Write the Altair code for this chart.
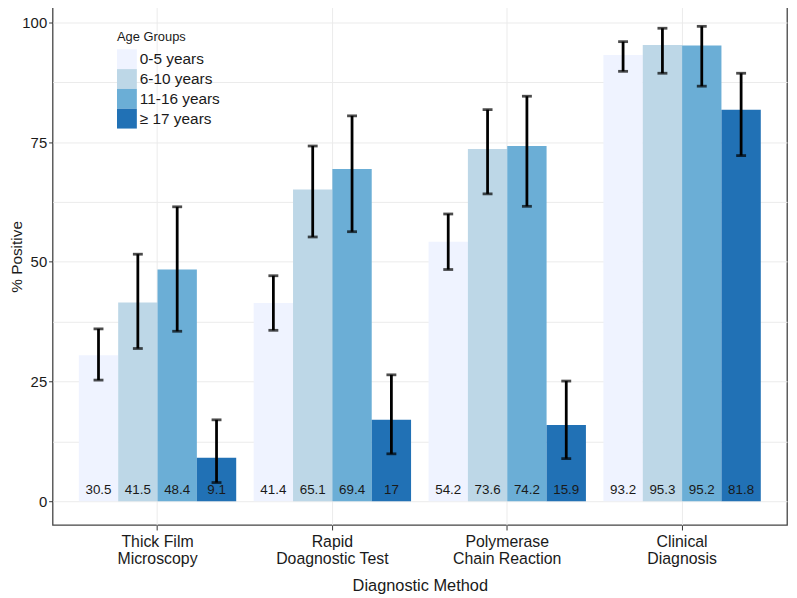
import altair as alt
import pandas as pd

methods = ["Thick Film\nMicroscopy", "Rapid\nDoagnostic Test", "Polymerase\nChain Reaction", "Clinical\nDiagnosis"]
ages = ["0-5 years", "6-10 years", "11-16 years", "\u2265 17 years"]
colors = ["#eff3ff", "#bdd7e7", "#6baed6", "#2171b5"]

# % positive per method (rows) and age group (columns)
values = [
    [30.5, 41.5, 48.4, 9.1],
    [41.4, 65.1, 69.4, 17],
    [54.2, 73.6, 74.2, 15.9],
    [93.2, 95.3, 95.2, 81.8],
]
lower = [
    [25.3, 31.9, 35.5, 3.9],
    [35.7, 55.2, 56.3, 9.9],
    [48.4, 64.2, 61.6, 8.9],
    [89.8, 89.4, 86.7, 72.2],
]
upper = [
    [36.0, 51.6, 61.5, 17.0],
    [47.1, 74.2, 80.5, 26.4],
    [60.0, 81.8, 84.6, 25.1],
    [96.0, 98.8, 99.2, 89.4],
]
y_ticks = [0, 12.5, 25, 37.5, 50, 62.5, 75, 87.5, 100]

rows = []
for i, m in enumerate(methods):
    for j, a in enumerate(ages):
        rows.append({"method": m, "age": a, "value": values[i][j],
                     "lo": lower[i][j], "hi": upper[i][j],
                     "label": f"{values[i][j]:g}"})
df = pd.DataFrame(rows)

FONT = "Liberation Sans"

x_enc = alt.X("method:N", sort=methods, title="Diagnostic Method",
              scale=alt.Scale(paddingInner=0.1, paddingOuter=0.15),
              axis=alt.Axis(labelExpr="split(datum.label, '\\n')", labelAngle=0,
                            bandPosition=0.5, grid=True, gridColor="#ebebeb",
                            domain=False, tickColor="#333333", tickSize=5,
                            labelPadding=4, labelFontSize=16, labelColor="#1a1a1a",
                            labelFont=FONT, labelLineHeight=17,
                            titleFont=FONT, titleFontSize=16.5, titleFontWeight="normal",
                            titleColor="#1a1a1a", titlePadding=11))
xo_enc = alt.XOffset("age:N", sort=ages, scale=alt.Scale(paddingInner=0, paddingOuter=0))
y_scale = alt.Scale(domain=[-4.97, 104.14], nice=False, zero=False)

base = alt.Chart(df)

bars = base.mark_bar(strokeWidth=0).encode(
    x=x_enc,
    xOffset=xo_enc,
    y=alt.Y("value:Q", scale=y_scale, title="% Positive",
            axis=alt.Axis(values=y_ticks, grid=True, gridColor="#ebebeb",
                          domain=False, tickSize=4, labelPadding=2,
                          tickColor={"condition": {"test": "datum.value % 25 == 0", "value": "#333333"}, "value": "transparent"},
                          labelExpr="datum.value % 25 == 0 ? datum.label : ''",
                          labelFontSize=15, labelColor="#1a1a1a", labelFont=FONT,
                          titleFont=FONT, titleFontSize=15.5, titleFontWeight="normal",
                          titleColor="#1a1a1a", titleX=-36, titleY=256,
                          titleAngle=270, titleBaseline="middle", titleAlign="center")),
    y2=alt.datum(0),
    color=alt.Color("age:N", sort=ages, scale=alt.Scale(domain=ages, range=colors),
                    legend=alt.Legend(title="Age Groups", orient="none", legendX=65, legendY=29,
                                      symbolType="square", symbolSize=400, symbolStrokeWidth=0,
                                      symbolOpacity=1, rowPadding=0, labelFontSize=15.5,
                                      labelFont=FONT, labelColor="#1a1a1a", titleFont=FONT,
                                      titleFontSize=13, titleFontWeight="normal",
                                      titleColor="#1a1a1a", titlePadding=5, labelOffset=3,
                                      padding=0)),
)

rules = base.mark_rule(color="black", strokeWidth=2.8).encode(
    x=alt.X("method:N", sort=methods),
    xOffset=alt.XOffset("age:N", sort=ages),
    y=alt.Y("lo:Q"),
    y2="hi:Q",
)
cap_hi = base.mark_tick(color="black", thickness=2.8, size=10).encode(
    x=alt.X("method:N", sort=methods),
    xOffset=alt.XOffset("age:N", sort=ages),
    y=alt.Y("hi:Q"),
)
cap_lo = base.mark_tick(color="black", thickness=2.8, size=10).encode(
    x=alt.X("method:N", sort=methods),
    xOffset=alt.XOffset("age:N", sort=ages),
    y=alt.Y("lo:Q"),
)
texts = base.mark_text(fontSize=13.5, font=FONT, color="#1a1a1a", baseline="middle", dy=-11).encode(
    x=alt.X("method:N", sort=methods),
    xOffset=alt.XOffset("age:N", sort=ages),
    y=alt.datum(0),
    text="label:N",
)

chart = alt.layer(bars, rules, cap_hi, cap_lo, texts).properties(
    width=741, height=527,
    autosize=alt.AutoSizeParams(type="none"),
    padding={"left": 45, "top": -8, "right": 2, "bottom": 70},
    background="white",
).configure_view(stroke="#444444", strokeWidth=1.3)

chart.save("out.html", embed_options={"renderer": "svg", "actions": False})
